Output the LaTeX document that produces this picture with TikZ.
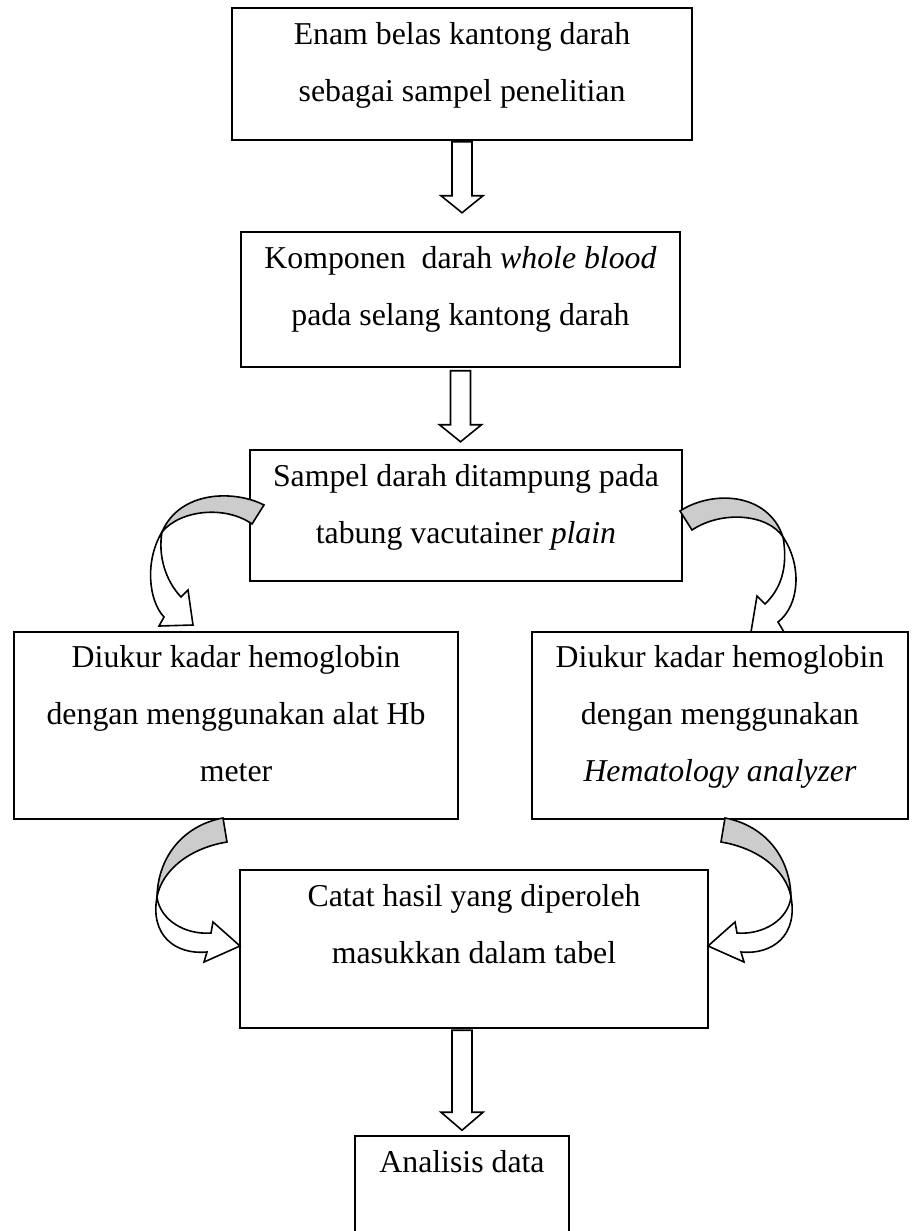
\documentclass[tikz,border=0pt]{standalone}
\usepackage{fontspec}
\setmainfont{Liberation Serif}
\usetikzlibrary{positioning}
\begin{document}
\begin{tikzpicture}[x=0.5pt, y=-0.5pt,
    kotak/.style={draw, fill=white, line width=0.75pt, inner sep=0pt},
    teks/.style={align=center, inner sep=0pt, font=\fontsize{15.9}{28.5}\selectfont},
    panah/.style={draw, fill=white, line width=0.8pt, line join=miter},
    bayang/.style={draw, fill=gray!40, line width=0.8pt}]
    \useasboundingbox (0,0) rectangle (924,1231);

    % Kotak-kotak
    \node[kotak, minimum width=230pt, minimum height=66pt] (b1) at (462,74) {};
    \node[kotak, minimum width=219.5pt, minimum height=67.5pt] (b2) at (460.5,299.5) {};
    \node[kotak, minimum width=216pt, minimum height=65.5pt] (b3) at (466,515.5) {};
    \node[kotak, minimum width=222pt, minimum height=93.5pt] (b4) at (236,725.5) {};
    \node[kotak, minimum width=188pt, minimum height=93.5pt] (b5) at (720,725.5) {};
    \node[kotak, minimum width=234pt, minimum height=79pt] (b6) at (474,949) {};
    \node[kotak, minimum width=107pt, minimum height=67pt] (b7) at (462,1203) {};

    % Isi teks
    \node[teks, below=7.5pt of b1.north] (t1) {Enam belas kantong darah\\sebagai sampel penelitian};
    \node[teks, below=7.5pt of b2.north] (t2) {Komponen\ \ darah \textit{whole blood}\\pada selang kantong darah};
    \node[teks, below=7.5pt of b3.north] (t3) {Sampel darah ditampung pada\\tabung vacutainer \textit{plain}};
    \node[teks, below=7pt of b4.north] (t4) {Diukur kadar hemoglobin\\dengan menggunakan alat Hb\\meter};
    \node[teks, below=7pt of b5.north] (t5) {Diukur kadar hemoglobin\\dengan menggunakan\\\textit{Hematology analyzer}};
    \node[teks, below=7.5pt of b6.north] (t6) {Catat hasil yang diperoleh\\masukkan dalam tabel};
    \node[teks, below=7.5pt of b7.north] (t7) {Analisis data};

    % Panah lurus ke bawah
    \draw[panah, shift={(b1.south)}] (-10,1) -- (-10,55) -- (-21,55) -- (0,72)
        -- (21,55) -- (10,55) -- (10,1) -- cycle;
    \draw[panah, shift={(b2.south)}] (-10,3) -- (-10,57) -- (-21,57) -- (0,74)
        -- (21,57) -- (10,57) -- (10,3) -- cycle;
    \draw[panah, shift={(b7.north)}] (-10,-105) -- (-10,-23) -- (-21,-23) -- (0,-5)
        -- (21,-23) -- (10,-23) -- (10,-105) -- cycle;

    % Panah lengkung atas (kiri dan kanan)
    \draw[bayang] (264,505) .. controls (235,490) and (180,490) .. (162,532)
        .. controls (180,510) and (225,505) .. (252,524) -- cycle;
    \draw[panah] (162,532) .. controls (145,560) and (148,600) .. (164,617)
        -- (159,626) -- (193,625) -- (188,590) -- (181,597)
        .. controls (165,580) and (158,555) .. (162,532) -- cycle;
    \draw[bayang] (680,511) .. controls (712,490) and (768,492) .. (783,537)
        .. controls (768,514) and (722,510) .. (692,530) -- cycle;
    \draw[panah] (783,537) .. controls (802,565) and (800,605) .. (778,622)
        -- (784,632) -- (751,632) -- (757,596) -- (765,604)
        .. controls (785,585) and (787,560) .. (783,537) -- cycle;

    % Panah lengkung bawah (kiri dan kanan)
    \draw[bayang] (223,818) .. controls (185,825) and (158,855) .. (157,897)
        .. controls (162,870) and (190,848) .. (227,842) -- cycle;
    \draw[panah] (157,897) .. controls (150,935) and (175,955) .. (207,952)
        -- (204,962) -- (240,946) -- (213,922) -- (211,933)
        .. controls (185,935) and (160,920) .. (157,897) -- cycle;
    \draw[bayang] (725,818) .. controls (763,825) and (790,855) .. (791,897)
        .. controls (786,870) and (758,848) .. (721,842) -- cycle;
    \draw[panah] (791,897) .. controls (798,935) and (773,955) .. (741,952)
        -- (744,962) -- (708,946) -- (735,922) -- (737,933)
        .. controls (763,935) and (788,920) .. (791,897) -- cycle;
\end{tikzpicture}
\end{document}
